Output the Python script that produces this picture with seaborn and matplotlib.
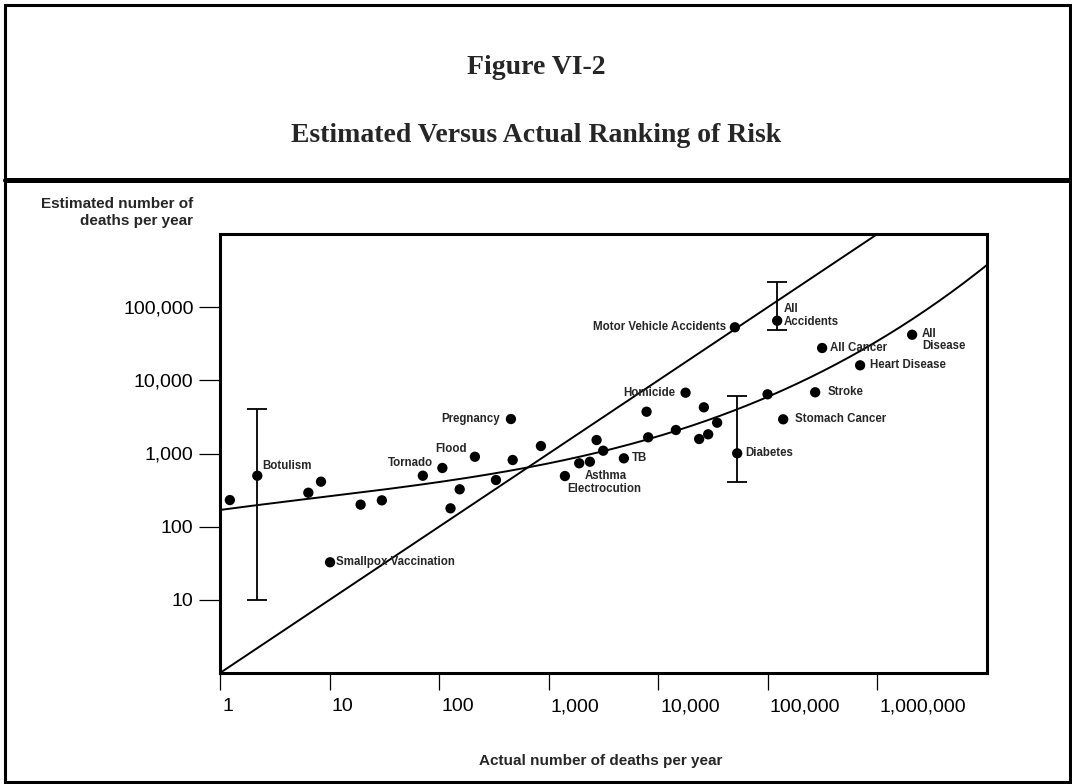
import numpy as np
import pandas as pd
import matplotlib
matplotlib.use("Agg")
import matplotlib.pyplot as plt
import matplotlib.transforms as mtransforms
import seaborn as sns
from matplotlib.ticker import NullLocator
from matplotlib.lines import Line2D
from matplotlib.patches import Rectangle

# ---------------- data ----------------
actual = [1.23, 2.19, 6.4, 8.35, 19.2, 30, 10.1, 71, 107, 212, 127, 154, 330, 469,
          452, 849, 1406, 1898, 2377, 2735, 3143, 4853, 7820, 8091, 17740, 14480,
          26060, 34450, 23610, 28530, 52480, 50000, 121600, 312900, 695000,
          2074000, 270300, 138000, 99370]
estimated = [231, 497, 291, 412, 200, 229, 32.6, 497, 634, 903, 178, 324, 434, 815,
             2960, 1265, 492, 735, 772, 1528, 1092, 859, 3724, 1664, 6776, 2094,
             4278, 2636, 1578, 1829, 1006, 53060, 65280, 27660, 16040, 42000,
             6862, 2933, 6442]
point_labels = ["", "Botulism", "", "", "", "", "Smallpox Vaccination", "", "Tornado",
                "Flood", "", "", "", "", "Pregnancy", "", "Electrocution", "Asthma",
                "", "", "", "TB", "", "", "Homicide", "", "", "", "", "",
                "Diabetes", "Motor Vehicle Accidents", "All\nAccidents", "All Cancer",
                "Heart Disease", "All\nDisease", "Stroke", "Stomach Cancer", ""]

# range bars (low / high estimates)
range_actual = [2.19, 52480, 121600]
range_mid = [497, 1006, 65280]
range_low = [10, 404, 48730]
range_high = [4000, 6170, 218700]

# fitted curve
curve_actual = [1.04, 24.2, 492, 1026, 3140, 8090, 14700, 53600, 100700, 560000,
                796000, 2090000, 9950000]
curve_estimated = [178, 271, 614, 773, 1091, 1663, 2143, 3724, 6295, 18970, 27420,
                   70800, 389000]

# perfect-agreement diagonal
diag_actual = [1, 10000000]
diag_estimated = [1, 10000000]

x_ticks = [1, 10, 100, 1000, 10000, 100000, 1000000]
x_ticklabels = ["1", "10", "100", "1,000", "10,000", "100,000", "1,000,000"]
y_ticks = [10, 100, 1000, 10000, 100000]
y_ticklabels = ["10", "100", "1,000", "10,000", "100,000"]

# label placement (pixel offsets from the point) and alignment
label_offsets = {
    "Botulism": (5, 10, "left"),
    "Smallpox Vaccination": (6, 0, "left"),
    "Tornado": (-9, 5, "right"),
    "Flood": (-8, 8, "right"),
    "Pregnancy": (-11, 0, "right"),
    "Electrocution": (2, -13, "left"),
    "Asthma": (6, -13, "left"),
    "TB": (8, 0, "left"),
    "Homicide": (-10, 0, "right"),
    "Diabetes": (8, 0, "left"),
    "Motor Vehicle Accidents": (-9, 0, "right"),
    "All\nAccidents": (7, 5, "left"),
    "All Cancer": (8, 0, "left"),
    "Heart Disease": (10, 0, "left"),
    "All\nDisease": (10, -5, "left"),
    "Stroke": (12, 0, "left"),
    "Stomach Cancer": (12, 0, "left"),
}

# ---------------- style ----------------
sns.set_style("white")
plt.rcParams['font.family'] = ['Liberation Sans', 'DejaVu Sans']

W, H = 1072, 784
fig = plt.figure(figsize=(W / 100, H / 100), dpi=100)
fig.patch.set_facecolor("white")

ax_l, ax_r, ax_t, ax_b = 220, 987, 234, 673
ax = fig.add_axes([ax_l / W, 1 - ax_b / H, (ax_r - ax_l) / W, (ax_b - ax_t) / H])
ax.set_xscale("log")
ax.set_yscale("log")

# diagonal
diag_df = pd.DataFrame({"actual": diag_actual, "estimated": diag_estimated})
sns.lineplot(data=diag_df, x="actual", y="estimated", color="black", lw=1.4,
             estimator=None, ax=ax)

# smooth curve through traced points (cubic in log space)
coef = np.polyfit(np.log10(curve_actual), np.log10(curve_estimated), 3)
tt = np.linspace(0, 7, 300)
curve_df = pd.DataFrame({"actual": 10 ** tt, "estimated": 10 ** np.polyval(coef, tt)})
sns.lineplot(data=curve_df, x="actual", y="estimated", color="black", lw=1.4,
             estimator=None, sort=False, ax=ax)

# range bars
ax.errorbar(range_actual, range_mid,
            yerr=[np.array(range_mid) - np.array(range_low),
                  np.array(range_high) - np.array(range_mid)],
            fmt="none", ecolor="black", elinewidth=1.3, capsize=7, capthick=1.3,
            zorder=2)

# points
df = pd.DataFrame({"actual": actual, "estimated": estimated, "label": point_labels})
sns.scatterplot(data=df, x="actual", y="estimated", color="black", s=55,
                edgecolor="none", ax=ax, zorder=3)

for _, row in df.iterrows():
    if row["label"]:
        dx, dy, ha = label_offsets[row["label"]]
        ax.annotate(row["label"], (row["actual"], row["estimated"]), xytext=(dx, dy),
                    textcoords="offset pixels", ha=ha, va="center", fontsize=8.3,
                    fontweight="bold", linespacing=1.05, zorder=4)

ax.set_xlim(1, 1e7)
ax.set_ylim(1, 1e6)

ax.set_xticks(x_ticks)
ax.set_xticklabels(x_ticklabels)
ax.set_yticks(y_ticks)
ax.set_yticklabels(y_ticklabels)
ax.xaxis.set_minor_locator(NullLocator())
ax.yaxis.set_minor_locator(NullLocator())
ax.tick_params(axis="x", bottom=True, direction="out", length=12, width=0.9,
               pad=6, labelsize=14, colors="black")
ax.tick_params(axis="y", left=True, direction="out", length=15, width=0.9,
               pad=4, labelsize=14, colors="black")
# x tick labels start at their tick (left aligned, small offset)
shift = mtransforms.ScaledTranslation(2 / 100, 0, fig.dpi_scale_trans)
for lab in ax.get_xticklabels():
    lab.set_ha("left")
    lab.set_transform(lab.get_transform() + shift)

for s in ax.spines.values():
    s.set_visible(True)
    s.set_color("black")
    s.set_linewidth(2.2)

ax.set_xlabel("Actual number of deaths per year", fontsize=11, fontweight="bold",
              va="center")
ax.xaxis.set_label_coords((601 - ax_l) / (ax_r - ax_l), (ax_b - 761) / (ax_b - ax_t))
ax.set_ylabel("Estimated number of\ndeaths per year", fontsize=11, fontweight="bold",
              rotation=0, ha="right", va="center", linespacing=1.2)
ax.yaxis.set_label_coords((193 - ax_l) / (ax_r - ax_l), (ax_b - 212.5) / (ax_b - ax_t))

# titles
serif = ['Liberation Serif', 'DejaVu Serif']
fig.text(0.5, 1 - 68 / H, "Figure VI-2", ha="center", va="center", fontsize=20,
         fontweight="bold", family=serif)
fig.text(0.5, 1 - 136 / H, "Estimated Versus Actual Ranking of Risk", ha="center",
         va="center", fontsize=20, fontweight="bold", family=serif)

# frame and divider
fig.add_artist(Rectangle((5 / W, 1 - 781.5 / H), 1065 / W, 776.5 / H,
                         transform=fig.transFigure, fill=False, edgecolor="black",
                         linewidth=2.2))
fig.add_artist(Line2D([5 / W, 1070 / W], [1 - 180 / H, 1 - 180 / H],
                      transform=fig.transFigure, color="black", linewidth=3.6))

fig.savefig("out.png", dpi=100, facecolor="white")
